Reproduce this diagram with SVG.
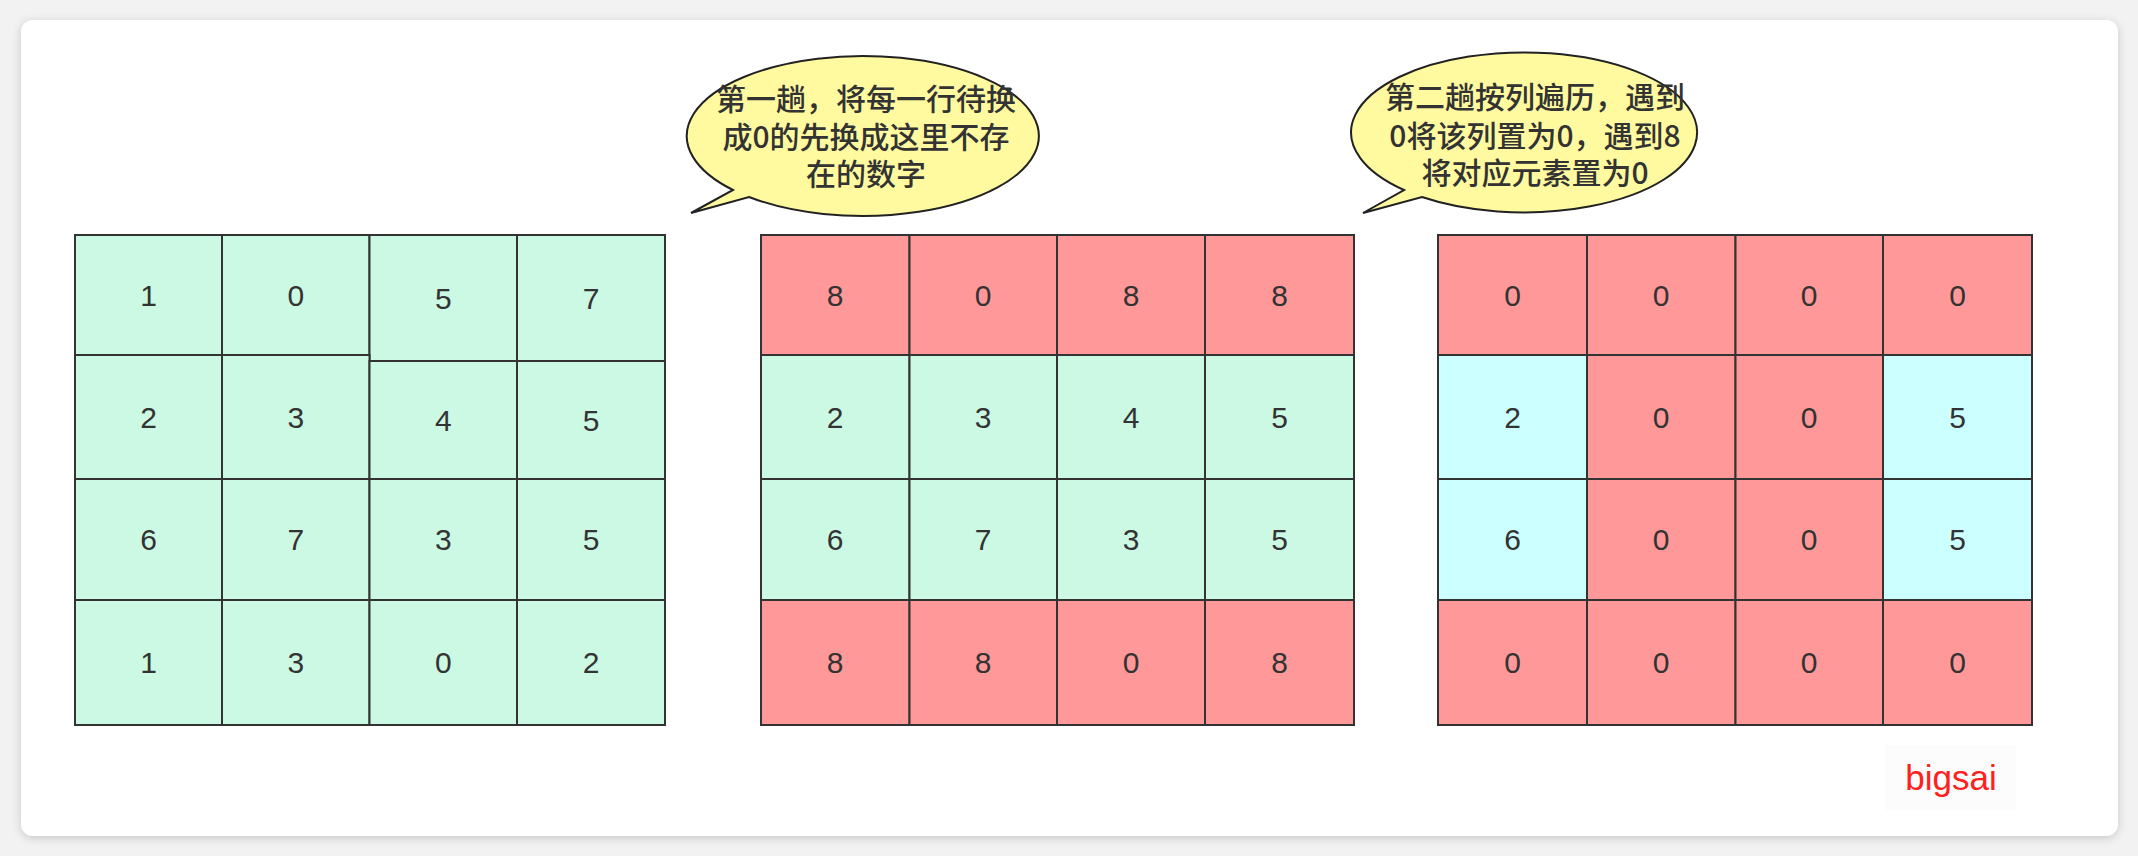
<svg xmlns="http://www.w3.org/2000/svg" width="2138" height="856" viewBox="0 0 2138 856">
<defs>
<style>
.g{fill:#CCF9E4;stroke:#333;stroke-width:2}
.r{fill:#FF9999;stroke:#333;stroke-width:2}
.c{fill:#CCFFFF;stroke:#333;stroke-width:2}
.n{font-family:"Liberation Sans",Arial,sans-serif;font-size:30px;fill:#333;text-anchor:middle;dominant-baseline:central}
.b{fill:#FFFAA0;stroke:#222;stroke-width:2}
.t{font-family:"Noto Sans CJK SC","Liberation Sans",sans-serif;font-size:30px;font-weight:500;fill:#333;text-anchor:middle;dominant-baseline:central}
</style>
<filter id="sh" x="-5%" y="-5%" width="110%" height="110%"><feDropShadow dx="0" dy="2" stdDeviation="5" flood-color="#000" flood-opacity="0.18"/></filter>
</defs>
<rect width="2138" height="856" fill="#f2f2f2"/>
<rect x="21" y="20" width="2097" height="816" rx="12" fill="#fff" filter="url(#sh)"/>

<g id="grid1">
<rect class="g" x="75" y="235" width="147" height="120"/><text class="n" x="148.5" y="295">1</text>
<rect class="g" x="222" y="235" width="147.5" height="120"/><text class="n" x="295.8" y="295">0</text>
<rect class="g" x="369.5" y="235" width="147.5" height="126"/><text class="n" x="443.3" y="298">5</text>
<rect class="g" x="517" y="235" width="148" height="126"/><text class="n" x="591" y="298">7</text>
<rect class="g" x="75" y="355" width="147" height="124"/><text class="n" x="148.5" y="417">2</text>
<rect class="g" x="222" y="355" width="147.5" height="124"/><text class="n" x="295.8" y="417">3</text>
<rect class="g" x="369.5" y="361" width="147.5" height="118"/><text class="n" x="443.3" y="420">4</text>
<rect class="g" x="517" y="361" width="148" height="118"/><text class="n" x="591" y="420">5</text>
<rect class="g" x="75" y="479" width="147" height="121"/><text class="n" x="148.5" y="539">6</text>
<rect class="g" x="222" y="479" width="147.5" height="121"/><text class="n" x="295.8" y="539">7</text>
<rect class="g" x="369.5" y="479" width="147.5" height="121"/><text class="n" x="443.3" y="539">3</text>
<rect class="g" x="517" y="479" width="148" height="121"/><text class="n" x="591" y="539">5</text>
<rect class="g" x="75" y="600" width="147" height="125"/><text class="n" x="148.5" y="662">1</text>
<rect class="g" x="222" y="600" width="147.5" height="125"/><text class="n" x="295.8" y="662">3</text>
<rect class="g" x="369.5" y="600" width="147.5" height="125"/><text class="n" x="443.3" y="662">0</text>
<rect class="g" x="517" y="600" width="148" height="125"/><text class="n" x="591" y="662">2</text>
</g>

<g id="grid2">
<rect class="r" x="761" y="235" width="148.5" height="120"/><text class="n" x="835" y="295">8</text>
<rect class="r" x="909.5" y="235" width="147.5" height="120"/><text class="n" x="983" y="295">0</text>
<rect class="r" x="1057" y="235" width="148" height="120"/><text class="n" x="1131" y="295">8</text>
<rect class="r" x="1205" y="235" width="149" height="120"/><text class="n" x="1279.5" y="295">8</text>
<rect class="g" x="761" y="355" width="148.5" height="124"/><text class="n" x="835" y="417">2</text>
<rect class="g" x="909.5" y="355" width="147.5" height="124"/><text class="n" x="983" y="417">3</text>
<rect class="g" x="1057" y="355" width="148" height="124"/><text class="n" x="1131" y="417">4</text>
<rect class="g" x="1205" y="355" width="149" height="124"/><text class="n" x="1279.5" y="417">5</text>
<rect class="g" x="761" y="479" width="148.5" height="121"/><text class="n" x="835" y="539">6</text>
<rect class="g" x="909.5" y="479" width="147.5" height="121"/><text class="n" x="983" y="539">7</text>
<rect class="g" x="1057" y="479" width="148" height="121"/><text class="n" x="1131" y="539">3</text>
<rect class="g" x="1205" y="479" width="149" height="121"/><text class="n" x="1279.5" y="539">5</text>
<rect class="r" x="761" y="600" width="148.5" height="125"/><text class="n" x="835" y="662">8</text>
<rect class="r" x="909.5" y="600" width="147.5" height="125"/><text class="n" x="983" y="662">8</text>
<rect class="r" x="1057" y="600" width="148" height="125"/><text class="n" x="1131" y="662">0</text>
<rect class="r" x="1205" y="600" width="149" height="125"/><text class="n" x="1279.5" y="662">8</text>
</g>

<g id="grid3">
<rect class="r" x="1438" y="235" width="149" height="120"/><text class="n" x="1512.5" y="295">0</text>
<rect class="r" x="1587" y="235" width="148.5" height="120"/><text class="n" x="1661" y="295">0</text>
<rect class="r" x="1735.5" y="235" width="147.5" height="120"/><text class="n" x="1809" y="295">0</text>
<rect class="r" x="1883" y="235" width="149" height="120"/><text class="n" x="1957.5" y="295">0</text>
<rect class="c" x="1438" y="355" width="149" height="124"/><text class="n" x="1512.5" y="417">2</text>
<rect class="r" x="1587" y="355" width="148.5" height="124"/><text class="n" x="1661" y="417">0</text>
<rect class="r" x="1735.5" y="355" width="147.5" height="124"/><text class="n" x="1809" y="417">0</text>
<rect class="c" x="1883" y="355" width="149" height="124"/><text class="n" x="1957.5" y="417">5</text>
<rect class="c" x="1438" y="479" width="149" height="121"/><text class="n" x="1512.5" y="539">6</text>
<rect class="r" x="1587" y="479" width="148.5" height="121"/><text class="n" x="1661" y="539">0</text>
<rect class="r" x="1735.5" y="479" width="147.5" height="121"/><text class="n" x="1809" y="539">0</text>
<rect class="c" x="1883" y="479" width="149" height="121"/><text class="n" x="1957.5" y="539">5</text>
<rect class="r" x="1438" y="600" width="149" height="125"/><text class="n" x="1512.5" y="662">0</text>
<rect class="r" x="1587" y="600" width="148.5" height="125"/><text class="n" x="1661" y="662">0</text>
<rect class="r" x="1735.5" y="600" width="147.5" height="125"/><text class="n" x="1809" y="662">0</text>
<rect class="r" x="1883" y="600" width="149" height="125"/><text class="n" x="1957.5" y="662">0</text>
</g>

<g id="bubble1">
<path class="b" d="M733,190 A176,80 0 1 1 749,197 L691,213 Z"/>
<text class="t" x="866" y="97">第一趟，将每一行待换</text>
<text class="t" x="866" y="135">成0的先换成这里不存</text>
<text class="t" x="866" y="172">在的数字</text>
</g>

<g id="bubble2">
<path class="b" d="M1404,190 A173,80 0 1 1 1422,197 L1363,213 Z"/>
<text class="t" x="1535" y="95">第二趟按列遍历，遇到</text>
<text class="t" x="1535" y="134">0将该列置为0，遇到8</text>
<text class="t" x="1535" y="171">将对应元素置为0</text>
</g>

<g id="watermark">
<rect x="1885" y="745" width="131" height="65" fill="#fcfcfc"/>
<text x="1951" y="790" font-family="'Liberation Sans',Arial,sans-serif" font-size="35" fill="#FF2020" text-anchor="middle">bigsai</text>
</g>
<g id="connectors"/>
</svg>
